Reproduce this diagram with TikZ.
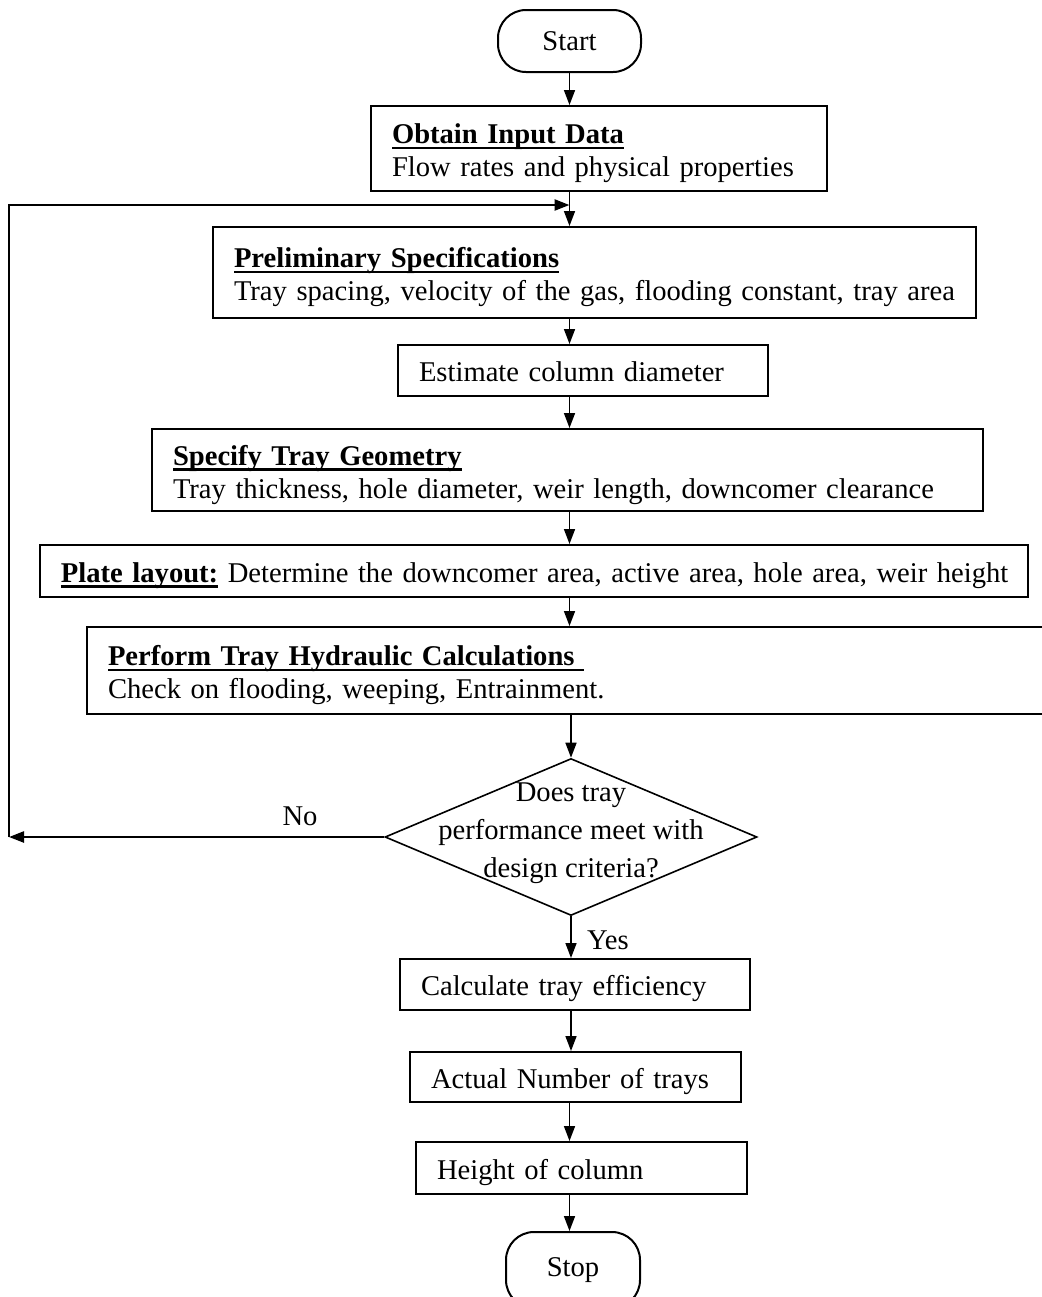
\documentclass[tikz,border=0pt]{standalone}
\usepackage{fontspec}
\setmainfont{Liberation Serif}
\usetikzlibrary{arrows.meta,shapes.geometric}
\newcommand\mytitle[1]{\setbox0\hbox{\textbf{#1}}\makebox[0pt][l]{\rule[-2.9pt]{\wd0}{1.2pt}}\box0\relax}
\begin{document}
\begin{tikzpicture}[x=0.5pt,y=-0.5pt,
  every node/.style={font=\fontsize{14.3}{16.5}\selectfont},
  box/.style={draw, line width=1pt, rectangle, inner xsep=10.5pt, inner ysep=0pt, align=left},
  one/.style={text height=13pt, text depth=2pt},
  two/.style={text height=13pt, text depth=18pt},
  term/.style={draw, line width=1pt, rounded corners=14pt, inner sep=0pt},
  arr/.style={line width=0.8pt, -{Triangle[length=7.5pt,width=5.5pt]}},
  fb/.style={line width=1.2pt, -{Triangle[length=7.5pt,width=5.5pt]}},
  lbl/.style={inner sep=0pt}
]
\useasboundingbox (0,0) rectangle (1041,1297);

\node[term, minimum width=71.5pt, minimum height=31pt] (start) at (569.5,41) {Start};
\node[box, two, text width=207pt, minimum height=42.5pt] (obtain) at (599,148.5)
  {\mytitle{Obtain Input Data}\\\mbox{Flow rates and physical properties}};
\node[box, two, text width=360.5pt, minimum height=45.5pt] (prelim) at (594.5,272.5)
  {\mytitle{Preliminary Specifications}\\\mbox{Tray spacing, velocity of the gas, flooding constant, tray area}};
\node[box, one, text width=164pt, minimum height=25.5pt] (estimate) at (583,370.5)
  {\mbox{Estimate column diameter}};
\node[box, two, text width=394.5pt, minimum height=41pt] (specify) at (567.5,470)
  {\mytitle{Specify Tray Geometry}\\\mbox{Tray thickness, hole diameter, weir length, downcomer clearance}};
\node[box, one, text width=473pt, minimum height=26pt] (plate) at (534,571)
  {\mbox{\mytitle{Plate layout:} Determine the downcomer area, active area, hole area, weir height}};
\node[box, two, text width=465.5pt, minimum height=43.5pt] (perform) at (573.5,670.5)
  {\mytitle{Perform Tray Hydraulic Calculations\ }\\\mbox{Check on flooding, weeping, Entrainment.}};
\node[diamond, draw, line width=0.8pt, minimum width=186pt, minimum height=78.5pt, inner sep=0pt] (dec) at (571,837) {};
\node[align=center, font=\fontsize{14.3}{19}\selectfont] (dectext) at (571,833)
  {Does tray\\performance meet with\\design criteria?};
\node[box, one, text width=154pt, minimum height=25.5pt] (calc) at (575,984.5)
  {\mbox{Calculate tray efficiency}};
\node[box, one, text width=144.5pt, minimum height=25pt] (actual) at (575.5,1077)
  {\mbox{Actual Number of trays}};
\node[box, one, text width=144.5pt, minimum height=26pt] (height) at (581.5,1168)
  {\mbox{Height of column}};
\node[term, minimum width=67pt, minimum height=38pt] (stop) at (573,1270) {Stop};

\node[lbl] (no) at (300,816) {No};
\node[lbl] (yes) at (608,940) {Yes};

\draw[arr] (start.south) -- (start.south |- obtain.north);
\draw[arr] (obtain.south -| start) -- (prelim.north -| start);
\draw[arr] (prelim.south -| start) -- (estimate.north -| start);
\draw[arr] (estimate.south -| start) -- (specify.north -| start);
\draw[arr] (specify.south -| start) -- (plate.north -| start);
\draw[arr] (plate.south -| start) -- (perform.north -| start);
\draw[arr] (perform.south -| dec) -- (dec.north);
\draw[arr] (dec.south) -- (calc.north -| dec);
\draw[arr] (calc.south -| dec) -- (actual.north -| dec);
\draw[arr] (actual.south -| start) -- (height.north -| start);
\draw[arr] (height.south -| start) -- (stop.north -| start);

\coordinate (fbc) at (9,205);
\draw[fb] (dec.west) -- (dec.west -| fbc);
\draw[fb] (dec.west -| fbc) -- (fbc) -- (fbc -| start);
\end{tikzpicture}
\end{document}
